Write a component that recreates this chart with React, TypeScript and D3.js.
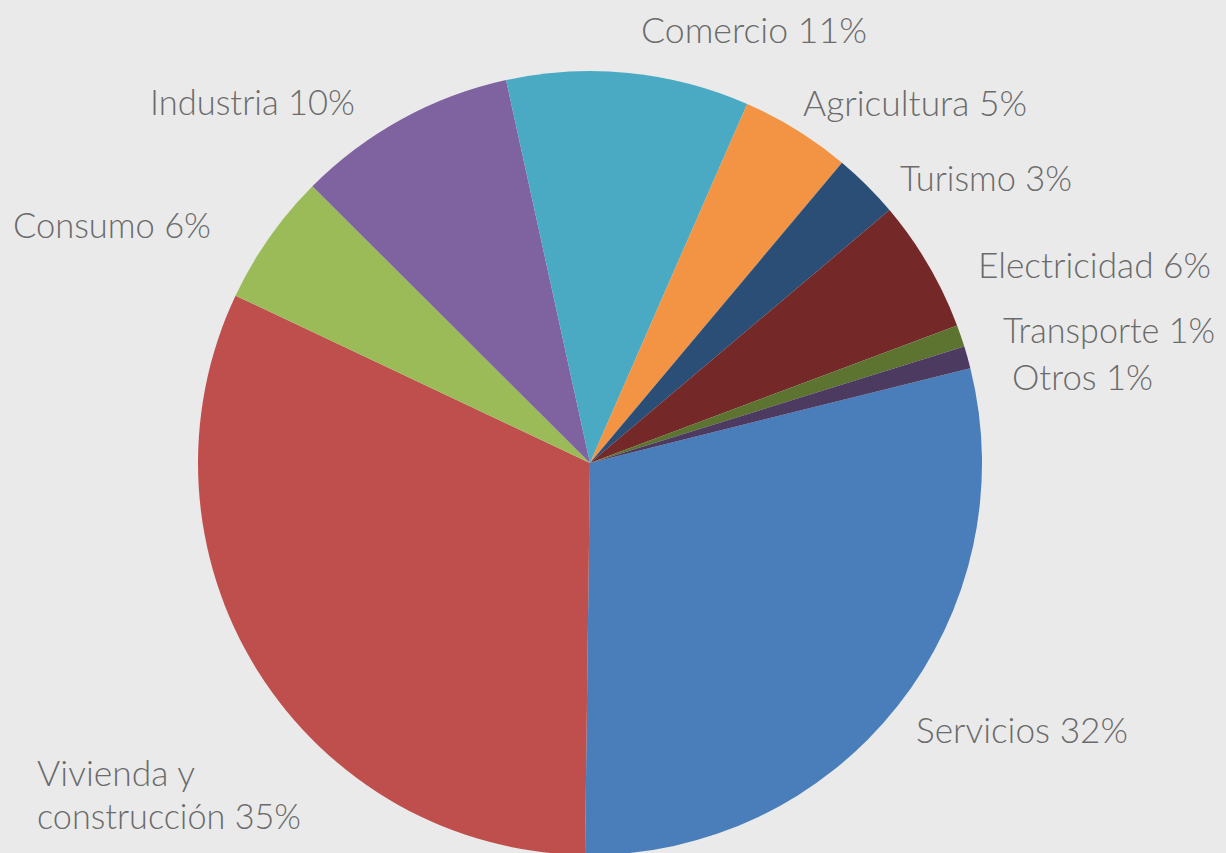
import * as d3 from 'd3';
import { useEffect, useRef } from 'react';

const WIDTH = 1226;
const HEIGHT = 853;
const CENTER = { x: 590, y: 463 };
const RADIUS = 392;

// sectors, clockwise starting from Servicios
const sectors = ['Servicios', 'Vivienda y construcción', 'Consumo', 'Industria', 'Comercio',
    'Agricultura', 'Turismo', 'Electricidad', 'Transporte', 'Otros'];
const shares = [32, 35, 6, 10, 11, 5, 3, 6, 1, 1];
const sliceColors = ['#4a7ebb', '#be4f4c', '#9bbb59', '#7f62a0', '#4aaac4',
    '#f29443', '#2b4e76', '#742928', '#5c742f', '#4c3a61'];

// label text lines, and where the text sits (left x, baseline y, width)
const labelLines = [
    ['Servicios 32%'],
    ['Vivienda y', 'construcción 35%'],
    ['Consumo 6%'],
    ['Industria 10%'],
    ['Comercio 11%'],
    ['Agricultura 5%'],
    ['Turismo 3%'],
    ['Electricidad 6%'],
    ['Transporte 1%'],
    ['Otros 1%'],
];
const labelPos = [
    [916, 743], [37, 786], [13, 238], [150, 115], [641, 43],
    [803, 116], [900, 191], [978, 278], [1003, 343], [1012, 390],
];
const labelWidths = [
    [212], [158, 264], [198], [205], [226],
    [224], [172], [233], [212], [141],
];

const START = (76 / 180) * Math.PI;

const PieChart = () => {
    const svgRef = useRef<SVGSVGElement>(null);

    useEffect(() => {
        const svg = d3.select(svgRef.current)
            .attr('width', WIDTH)
            .attr('height', HEIGHT);
        svg.selectAll('*').remove();

        svg.append('rect')
            .attr('width', WIDTH)
            .attr('height', HEIGHT)
            .attr('fill', '#eaeaea');

        const pie = d3.pie<number>()
            .sort(null)
            .value((d) => d)
            .startAngle(START)
            .endAngle(START + 2 * Math.PI);
        const arc = d3.arc<d3.PieArcDatum<number>>()
            .innerRadius(0)
            .outerRadius(RADIUS);

        const g = svg.append('g')
            .attr('transform', `translate(${CENTER.x}, ${CENTER.y})`);

        g.selectAll('path')
            .data(pie(shares))
            .join('path')
            .attr('d', arc)
            .attr('fill', (_, i) => sliceColors[i]);

        // labels
        const labels = svg.append('g')
            .attr('font-family', 'Lato, "Noto Sans", sans-serif')
            .attr('font-weight', 300)
            .attr('font-size', 36)
            .attr('fill', '#6b6b6b');

        sectors.forEach((_, i) => {
            const [x, y] = labelPos[i];
            labelLines[i].forEach((line, j) => {
                labels.append('text')
                    .attr('x', x)
                    .attr('y', y + j * 43)
                    .attr('textLength', labelWidths[i][j])
                    .attr('lengthAdjust', 'spacingAndGlyphs')
                    .text(line);
            });
        });
    }, []);

    return <svg ref={svgRef} style={{ display: 'block' }} />;
};

export default function App() {
    return (
        <div style={{ position: 'fixed', left: 0, top: 0, width: WIDTH, height: HEIGHT }}>
            <PieChart />
        </div>
    );
}
